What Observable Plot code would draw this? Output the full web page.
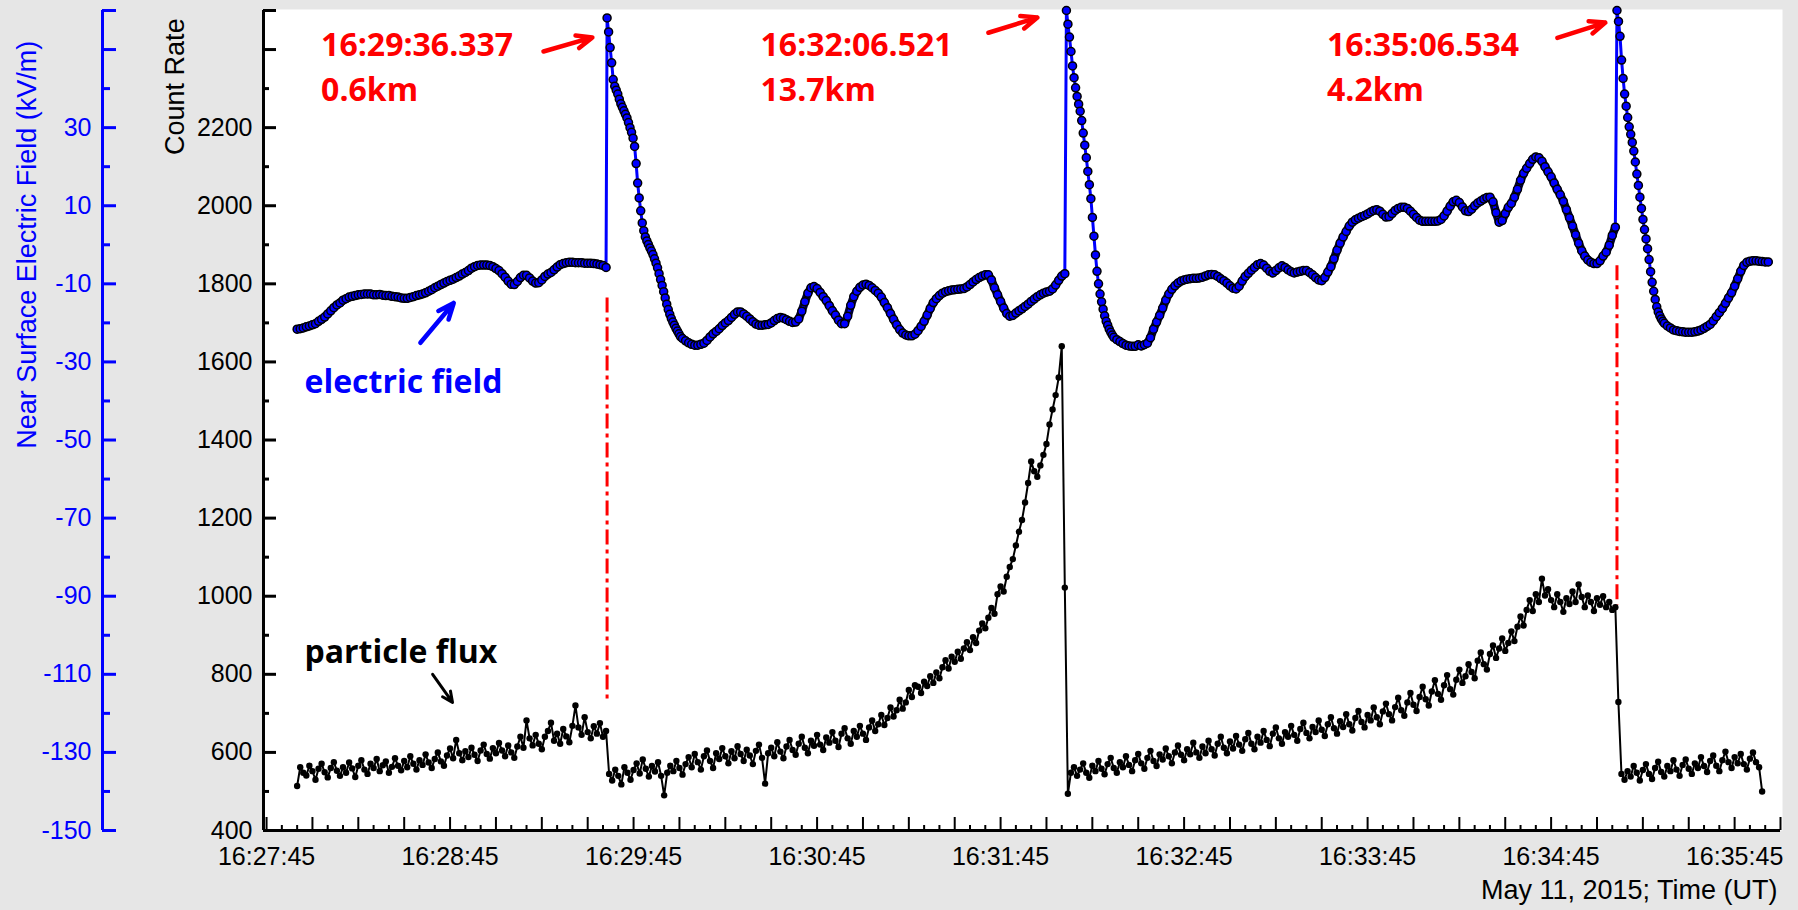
<!DOCTYPE html>
<html>
<head>
<meta charset="utf-8">
<script src="https://cdn.jsdelivr.net/npm/d3@7"></script>
<script src="https://cdn.jsdelivr.net/npm/@observablehq/plot@0.6"></script>
<style>
  html, body { margin: 0; padding: 0; background: #e6e6e6; }
  #chart svg { display: block; }
</style>
</head>
<body>
<div id="chart"></div>
<script>
// All times are seconds after 16:27:45 UT, 2015-05-11.

// Near-surface electric field (kV/m). Quiet stretches at 1 s, the jumps at 0.5 s from each stroke.
const fieldSlow1 = [-21.6,-21.5,-21.3,-21.0,-20.8,-20.5,-20.2,-19.6,-19.1,-18.5,
  -17.7,-16.9,-16.1,-15.4,-14.9,-14.2,-13.8,-13.4,-13.2,-13.0,
  -12.8,-12.7,-12.6,-12.6,-12.6,-12.8,-12.8,-12.7,-12.9,-13.0,
  -13.0,-13.2,-13.3,-13.4,-13.6,-13.7,-13.7,-13.5,-13.3,-13.0,
  -12.8,-12.6,-12.3,-11.9,-11.5,-11.0,-10.6,-10.2,-9.8,-9.4,
  -9.1,-8.8,-8.4,-8.0,-7.5,-7.1,-6.6,-6.0,-5.6,-5.3,
  -5.2,-5.2,-5.2,-5.3,-5.6,-6.1,-6.6,-7.4,-8.3,-9.3,
  -10.1,-10.2,-9.4,-8.4,-7.8,-7.8,-8.5,-9.3,-9.8,-9.7,
  -9.0,-8.1,-7.5,-7.1,-6.4,-5.7,-5.1,-4.8,-4.6,-4.5,
  -4.5,-4.6,-4.6,-4.6,-4.7,-4.7,-4.7,-4.8,-4.9,-5.1,
  -5.3,-5.8];                                   // t = 10 … 111
const fieldJump1 = [58.1,54.5,50.5,46.6,42.3,40.6,39.6,38.6,37.3,36.1,35.2,34.3,33.4,32.5,31.3,30.0,28.8,27.3,25.2,20.8,
  15.8,12.0,8.7,5.6,3.6,2.0,1.0,0.1,-0.8,-1.6,-2.5,-3.6,-4.7,-5.9,-7.4,-8.9,-10.4,-12.0,-13.6,-15.2,
  -16.6,-17.8,-18.9,-19.8,-20.6,-21.4,-22.1,-22.8,-23.5];          // from stroke 1
const fieldSlow2 = [-24.0,-24.6,-25.1,-25.5,-25.7,-25.7,-25.5,-25.2,-24.5,-23.6,
  -22.8,-22.2,-21.5,-20.7,-20.0,-19.4,-18.6,-17.8,-17.2,-17.2,
  -17.7,-18.3,-19.0,-19.7,-20.3,-20.6,-20.6,-20.5,-20.4,-20.0,
  -19.4,-18.9,-18.6,-18.8,-19.2,-19.6,-19.9,-19.8,-19.0,-17.0,
  -14.6,-12.4,-11.0,-10.7,-11.2,-12.2,-13.3,-14.3,-15.6,-16.9,
  -18.0,-19.3,-20.2,-20.2,-18.3,-15.5,-13.3,-11.9,-10.9,-10.3,
  -10.1,-10.4,-11.0,-11.7,-12.4,-13.4,-14.8,-16.1,-17.6,-19.1,
  -20.5,-21.7,-22.6,-23.1,-23.3,-23.3,-22.9,-22.0,-20.9,-19.6,
  -18.0,-16.3,-14.8,-13.8,-13.0,-12.4,-12.0,-11.8,-11.6,-11.5,
  -11.4,-11.3,-11.2,-10.8,-10.2,-9.5,-8.9,-8.4,-8.0,-7.7,
  -7.7,-9.0,-11.0,-12.8,-14.5,-16.2,-17.6,-18.3,-18.1,-17.5,
  -16.9,-16.4,-15.8,-15.2,-14.5,-13.9,-13.3,-12.8,-12.4,-12.1,
  -11.9,-11.3,-10.3,-9.1,-8.0,-7.4];            // t = 136 … 261
const fieldJump2 = [60.0,56.5,53.2,49.5,45.8,42.8,40.2,38.0,36.0,34.2,31.8,28.6,25.5,22.3,18.8,15.4,
  11.8,7.0,2.2,-2.6,-6.8,-10.0,-12.6,-14.6,-16.5,-18.2,-19.6,-20.6,-21.6,-22.4,-23.1,-23.7];  // from stroke 2
const fieldSlow3 = [-24.3,-24.8,-25.3,-25.7,-25.9,-26.0,-26.0,-25.6,-25.9,-25.6,
  -25.2,-23.8,-21.6,-19.8,-18.1,-16.2,-14.2,-12.6,-11.4,-10.5,
  -9.8,-9.3,-9.0,-8.8,-8.7,-8.6,-8.6,-8.5,-8.3,-8.0,
  -7.7,-7.6,-7.7,-8.1,-8.7,-9.2,-9.8,-10.5,-11.1,-11.3,
  -10.6,-9.3,-8.1,-7.3,-6.5,-5.8,-5.1,-4.8,-5.2,-6.0,
  -6.8,-7.2,-6.6,-5.9,-5.4,-5.8,-6.4,-6.9,-7.2,-7.0,
  -6.8,-6.6,-6.6,-7.1,-7.7,-8.4,-9.0,-9.2,-8.4,-7.0,
  -5.6,-3.6,-1.4,0.4,2.0,3.4,4.8,5.8,6.4,6.8,
  7.2,7.5,7.9,8.4,8.8,9.0,8.6,7.8,7.1,7.2,
  8.0,8.8,9.3,9.6,9.6,9.3,8.6,7.8,7.0,6.3,
  6.0,6.0,6.0,6.0,6.0,6.1,6.5,7.4,8.6,9.9,
  11.0,11.4,10.8,9.7,8.7,8.5,9.1,10.0,10.7,11.2,
  11.7,12.1,12.2,11.0,8.2,5.8,6.2,8.0,9.6,10.6,
  12.2,14.2,16.5,18.3,19.6,20.8,21.9,22.5,22.3,21.4,
  20.0,18.7,17.4,15.8,14.2,12.8,11.1,9.0,6.9,4.8,
  2.6,0.4,-1.5,-2.9,-3.9,-4.5,-4.8,-4.8,-4.1,-2.9,
  -1.9,-0.1,2.4,4.5];                           // t = 278 … 441
const fieldJump3 = [60.0,57.2,53.4,47.3,42.6,38.6,35.5,32.6,30.2,28.3,26.2,24.0,21.2,18.1,15.2,12.2,
  9.3,6.5,3.9,1.5,-1.0,-3.8,-6.9,-9.6,-11.9,-14.0,-15.9,-17.2,-18.2,-19.0,-19.6,-20.1];      // from stroke 3
const fieldSlow4 = [-20.8,-21.3,-21.8,-22.0,-22.2,-22.3,-22.4,-22.4,-22.4,-22.3,
  -22.1,-21.8,-21.4,-20.9,-20.4,-19.5,-18.4,-17.4,-16.3,-15.0,
  -13.6,-12.3,-10.6,-8.7,-6.8,-5.3,-4.5,-4.2,-4.1,-4.1,
  -4.2,-4.3,-4.4,-4.4];                         // t = 458 … 491

// Particle count rate, one value per second from t = 10 to t = 489
const fluxCounts = [
  514,562,548,541,566,552,530,558,571,549, 536,560,575,553,540,562,548,574,559,537,
  566,580,556,545,571,560,583,552,567,577, 548,563,585,566,554,578,562,590,571,556,
  580,568,595,574,560,583,600,577,566,592, 610,585,632,598,580,603,588,612,594,578,
  605,620,596,584,611,598,624,605,590,618, 600,586,615,640,612,682,636,618,645,622,
  608,640,655,676,630,648,622,660,641,626, 668,720,664,645,690,652,636,667,648,675,
  640,655,
  545,528,556,540,518,562,548,530,
  555,572,546,582,558,538,565,551,575,540, 490,548,566,552,578,560,543,570,588,562,
  596,575,556,590,605,578,560,598,583,611, 590,572,603,585,616,596,578,607,592,570,
  604,620,586,520,598,612,590,626,602,585, 615,632,606,594,622,640,612,598,630,617,
  645,620,606,638,625,652,630,614,648,662, 636,622,655,640,668,648,632,664,682,655,
  672,696,670,688,715,692,708,735,712,728, 760,742,772,768,752,781,770,795,778,805,
  790,818,836,815,845,832,858,840,866,882, 862,895,880,912,930,918,945,970,955,1005,
  1025,1012,1050,1075,1095,1130,1165,1195,1240,1290, 1345,1320,1306,1335,1362,1390,1440,1478,1515,1560,
  1640,1022,
  494,548,562,540,556,572,548,535,
  566,552,578,558,544,570,586,560,548,575, 562,590,568,552,580,596,572,558,586,604,
  578,565,595,582,610,590,572,600,618,594, 580,608,595,625,600,586,615,598,630,608,
  592,622,640,612,598,628,610,642,620,604, 634,650,622,608,640,625,655,632,616,648,
  664,636,622,652,640,668,645,630,660,676, 650,636,665,652,682,658,642,672,690,662,
  648,680,665,698,672,656,688,706,678,664, 696,682,715,690,672,705,725,698,682,716,
  740,708,694,728,752,722,706,742,768,736, 720,756,785,750,735,772,798,762,748,786,
  812,778,795,826,806,790,835,856,826,812, 852,874,842,866,892,860,880,910,885,922,
  948,925,965,990,962,1005,985,1045,1002,1018, 990,972,1005,985,960,995,980,1012,985,1030,
  998,972,1002,985,962,995,978,1000,972,985,
  965,972,
  729,545,530,552,538,565,548,528,
  555,570,545,532,560,576,550,538,565,552, 580,556,540,568,582,558,545,572,560,588,
  565,550,578,592,566,552,580,602,575,560, 588,572,596,570,556,584,600,575,562,500];
const fluxStart = 10;

// Lightning strokes
const strikeTimes = [111.337, 261.521, 441.534];
const strikeStamps = ["16:29:36.337", "16:32:06.521", "16:35:06.534"];
const strikeDistances = ["0.6km", "13.7km", "4.2km"];

// Axis tick labels
const xTickLabels = ["16:27:45","16:28:45","16:29:45","16:30:45","16:31:45","16:32:45","16:33:45","16:34:45","16:35:45"];
const countTickLabels = [400,600,800,1000,1200,1400,1600,1800,2000,2200];
const fieldTickLabels = [-150,-130,-110,-90,-70,-50,-30,-10,10,30];

// ---- geometry ----
const W = 1798, H = 910;
const mL = 263, mR = 18, mT = 10, mB = 80;
const frameW = W - mL - mR, frameH = H - mT - mB;
const fieldAxisDx = -161;          // the field axis sits left of the count axis
const labelFont = "Liberation Sans, Arial, sans-serif";
const noteFont = "Open Sans, sans-serif";
const red = "#ff0000";

const T0 = Date.UTC(2015, 4, 11, 16, 27, 45);
const at = s => new Date(T0 + s * 1000);
// field axis: -150 kV/m sits on 400 counts, 10 counts per kV/m
const toCount = e => 400 + (e + 150) * 10;

// sampled runs -> {t, v, run}
const run = (values, start, step, name) => values.map((v, k) => ({t: start + k * step, v, run: name}));
const fieldSamples = [
  ...run(fieldSlow1, 10, 1, "slow1"),
  ...run(fieldJump1, strikeTimes[0], 0.5, "jump1"),
  ...run(fieldSlow2, 136, 1, "slow2"),
  ...run(fieldJump2, strikeTimes[1], 0.5, "jump2"),
  ...run(fieldSlow3, 278, 1, "slow3"),
  ...run(fieldJump3, strikeTimes[2], 0.5, "jump3"),
  ...run(fieldSlow4, 458, 1, "slow4")
];
const field = fieldSamples.map(d => ({time: at(d.t), count: toCount(d.v), run: d.run}));
const fieldQuiet = field.filter(d => d.run.startsWith("slow"));
const flux = run(fluxCounts, fluxStart, 1, "flux").map(d => ({time: at(d.t), count: d.v}));

// annotation placement: seconds relative to each stroke, count values for heights
const noteLead = [-93.5, -100, -94.8];
const arrowTail = [[-20.8, 2395], [-25.5, 2443], [-19.5, 2430]];
const arrowHead = [[-4.8, 2431], [-9.5, 2482], [-3.8, 2469]];
const notes = strikeTimes.map((t, i) => ({
  at: at(t + noteLead[i]), stamp: strikeStamps[i], dist: strikeDistances[i],
  x1: at(t + arrowTail[i][0]), y1: arrowTail[i][1], x2: at(t + arrowHead[i][0]), y2: arrowHead[i][1]
}));
const dropLines = [{t: strikeTimes[0], top: 1764, bottom: 736}, {t: strikeTimes[2], top: 1846, bottom: 977}];

const xLong = d3.range(0, 496, 15), xShort = d3.range(0, 496, 5).filter(s => s % 15);
const xLabelTimes = xTickLabels.map(s => { const [h, m, sec] = s.split(":").map(Number); return new Date(Date.UTC(2015, 4, 11, h, m, sec)); });
const countLong = [...d3.range(400, 2500, 200), 2500], countShort = d3.range(500, 2400, 200);
const fieldLong = [...d3.range(-150, 60, 20), 60], fieldShort = d3.range(-140, 50, 20);

const chart = Plot.plot({
  width: W, height: H,
  marginLeft: mL, marginRight: mR, marginTop: mT, marginBottom: mB,
  style: {background: "#e6e6e6", fontFamily: labelFont, overflow: "visible"},
  x: {type: "utc", domain: [at(-1), at(495)], axis: null},
  y: {domain: [400, 2500], axis: null},
  marks: [
    Plot.frame({fill: "white", stroke: null, insetTop: -1, insetRight: -2}),

    // electric field axis (left, blue)
    Plot.ruleX([at(-1)], {y1: 400, y2: 2500, dx: fieldAxisDx, stroke: "blue", strokeWidth: 3}),
    Plot.ruleY(fieldLong.map(toCount), {dx: fieldAxisDx, insetRight: frameW - 14, stroke: "blue", strokeWidth: 3}),
    Plot.ruleY(fieldShort.map(toCount), {dx: fieldAxisDx, insetRight: frameW - 8, stroke: "blue", strokeWidth: 3}),
    Plot.text(fieldTickLabels, {y: d => toCount(d), text: d => String(d), frameAnchor: "left", dx: fieldAxisDx - 11, textAnchor: "end", lineAnchor: "middle", fill: "blue", fontSize: 25, fontFamily: labelFont}),
    Plot.text(["Near Surface Electric Field (kV/m)"], {x: at(-78.2), y: 1900, rotate: -90, textAnchor: "middle", lineAnchor: "middle", fill: "blue", fontSize: 27, fontFamily: labelFont}),

    // count rate axis
    Plot.ruleX([at(-1)], {stroke: "black", strokeWidth: 3}),
    Plot.ruleY(countLong, {insetRight: frameW - 13, stroke: "black", strokeWidth: 3}),
    Plot.ruleY(countShort, {insetRight: frameW - 6, stroke: "black", strokeWidth: 3}),
    Plot.text(countTickLabels, {y: d => d, text: d => String(d), frameAnchor: "left", dx: -11, textAnchor: "end", lineAnchor: "middle", fill: "black", fontSize: 25, fontFamily: labelFont}),
    Plot.text(["Count Rate"], {x: at(-29.8), y: 2305, rotate: -90, textAnchor: "middle", lineAnchor: "middle", fill: "black", fontSize: 27, fontFamily: labelFont}),

    // time axis
    Plot.ruleY([400], {stroke: "black", strokeWidth: 3}),
    Plot.ruleX(xLong.map(at), {insetTop: frameH - 13, stroke: "black", strokeWidth: 2}),
    Plot.ruleX(xShort.map(at), {insetTop: frameH - 5, stroke: "black", strokeWidth: 2}),
    Plot.text(xLabelTimes, {x: d => d, text: (d, i) => xTickLabels[i], frameAnchor: "bottom", dy: 34, lineAnchor: "bottom", fill: "black", fontSize: 25, fontFamily: labelFont}),
    Plot.text(["May 11, 2015; Time (UT)"], {frameAnchor: "bottom-right", dx: -3, dy: 68, textAnchor: "end", lineAnchor: "bottom", fill: "black", fontSize: 27, fontFamily: labelFont}),

    // stroke markers between the two records
    Plot.ruleX(dropLines, {x: d => at(d.t), y1: "top", y2: "bottom", stroke: red, strokeWidth: 3, strokeDasharray: "15,5,4,5"}),

    // particle flux
    Plot.line(flux, {x: "time", y: "count", stroke: "black", strokeWidth: 2}),
    Plot.dot(flux, {x: "time", y: "count", r: 3.2, fill: "black", stroke: null}),

    // electric field: dark edge under the densely sampled quiet stretches, then line and markers
    Plot.line(fieldQuiet, {x: "time", y: "count", z: "run", stroke: "#000033", strokeWidth: 8.5}),
    Plot.line(field, {x: "time", y: "count", stroke: "blue", strokeWidth: 3}),
    Plot.dot(field, {x: "time", y: "count", r: 4, fill: "blue", stroke: "black", strokeWidth: 1.5}),

    // stroke annotations: time stamp, distance, arrow to the field jump
    Plot.text(notes, {x: "at", text: "stamp", frameAnchor: "top", dy: 45, lineAnchor: "bottom", textAnchor: "start", fill: red, fontSize: 32, fontWeight: 700, fontFamily: noteFont}),
    Plot.text(notes, {x: "at", text: "dist", frameAnchor: "top", dy: 90, lineAnchor: "bottom", textAnchor: "start", fill: red, fontSize: 32, fontWeight: 700, fontFamily: noteFont}),
    Plot.arrow(notes, {x1: "x1", y1: "y1", x2: "x2", y2: "y2", stroke: red, strokeWidth: 4.5, headLength: 15, headAngle: 45}),

    // series labels
    Plot.text(["electric field"], {x: at(12.4), y: 1520, lineAnchor: "bottom", textAnchor: "start", fill: "blue", fontSize: 32, fontWeight: 700, fontFamily: noteFont}),
    Plot.arrow([0], {x1: at(50.3), y1: 1649, x2: at(61.2), y2: 1751, stroke: "blue", strokeWidth: 4.5, headLength: 13, headAngle: 45}),
    Plot.text(["particle flux"], {x: at(12.4), y: 828, lineAnchor: "bottom", textAnchor: "start", fill: "black", fontSize: 32, fontWeight: 700, fontFamily: noteFont}),
    Plot.arrow([0], {x1: at(54.3), y1: 800, x2: at(60.8), y2: 728, stroke: "black", strokeWidth: 3, headLength: 10, headAngle: 50})
  ]
});

document.getElementById("chart").append(chart);
</script>
</body>
</html>
